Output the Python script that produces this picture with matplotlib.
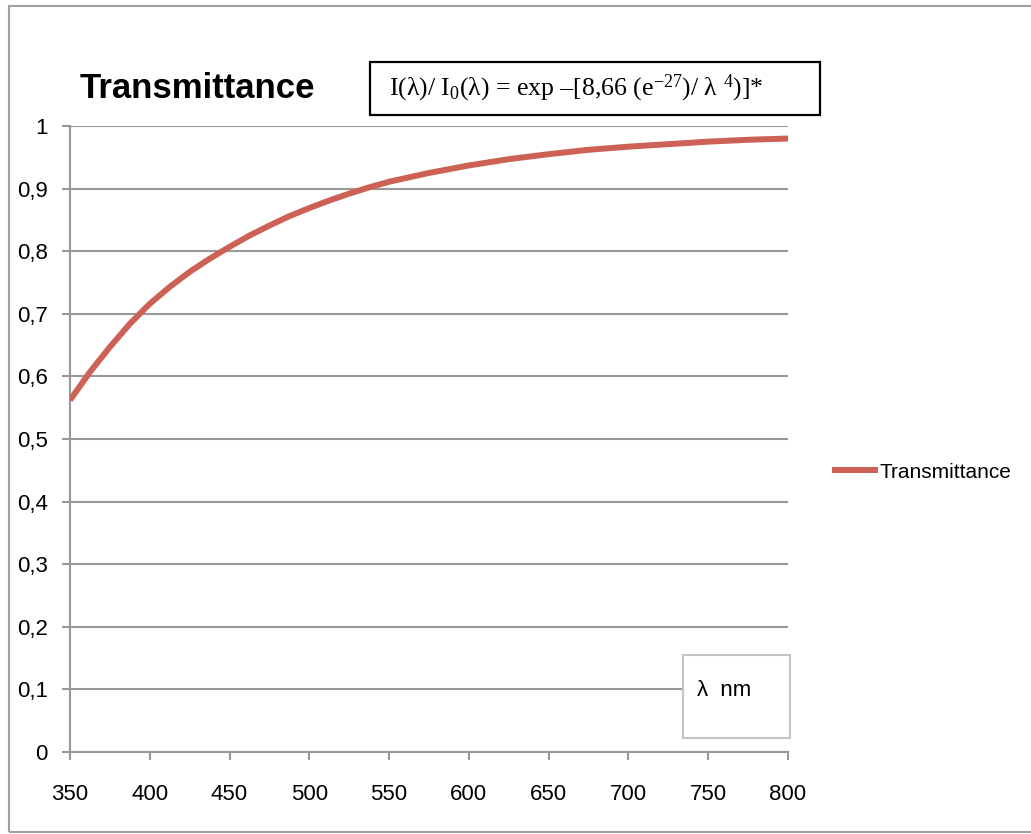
import matplotlib
matplotlib.use('Agg')
import matplotlib.pyplot as plt
from matplotlib.patches import Rectangle

# wavelength (nm) and transmittance
wavelength = [350, 362.5, 375, 387.5, 400, 412.5, 425, 437.5, 450, 462.5,
              475, 487.5, 500, 512.5, 525, 537.5, 550, 575, 600, 625,
              650, 675, 700, 725, 750, 775, 800]
transmittance = [0.562, 0.607, 0.647, 0.684, 0.716, 0.743, 0.767, 0.788, 0.807, 0.825,
                 0.841, 0.856, 0.869, 0.881, 0.892, 0.902, 0.911, 0.925, 0.937, 0.947,
                 0.955, 0.962, 0.967, 0.971, 0.975, 0.978, 0.980]
x_ticks = [350, 400, 450, 500, 550, 600, 650, 700, 750, 800]
y_ticks = [0, 0.1, 0.2, 0.3, 0.4, 0.5, 0.6, 0.7, 0.8, 0.9, 1]
y_ticklabels = ['0', '0,1', '0,2', '0,3', '0,4', '0,5', '0,6', '0,7', '0,8', '0,9', '1']

sans = ['Liberation Sans Narrow', 'Liberation Sans', 'DejaVu Sans']
serif = ['Liberation Serif', 'DejaVu Serif']
line_color = '#CD6155'
grid_color = '#989898'

plt.rcParams.update({'font.family': sans,
                     'mathtext.fontset': 'custom',
                     'mathtext.rm': 'Liberation Serif',
                     'mathtext.it': 'Liberation Serif:italic'})

W, H = 1031, 834
fig = plt.figure(figsize=(W / 100, H / 100), dpi=100)
ax = fig.add_axes([70 / W, 1 - 752 / H, (788 - 70) / W, (752 - 126) / H])

ax.plot(wavelength, transmittance, color=line_color, linewidth=4.3,
        solid_capstyle='butt', solid_joinstyle='round',
        label='Transmittance', zorder=3)

ax.set_xlim(350, 800)
ax.set_ylim(0, 1)
ax.set_xticks(x_ticks)
ax.set_yticks(y_ticks)
ax.set_yticklabels(y_ticklabels)
ax.yaxis.grid(True, color=grid_color, linewidth=1.5)
ax.set_axisbelow(True)

for side in ['top', 'right']:
    ax.spines[side].set_visible(False)
for side in ['left', 'bottom']:
    ax.spines[side].set_color(grid_color)
    ax.spines[side].set_linewidth(1.5)
ax.tick_params(axis='both', colors=grid_color, width=1.5, length=6,
               labelsize=16, labelcolor='black')
ax.tick_params(axis='y', pad=10)
ax.tick_params(axis='x', pad=17)

# legend to the right of the plot
fig.legend(loc='center left', bbox_to_anchor=(832 / W, 1 - 472 / H),
           frameon=False, fontsize=15, handlelength=2.2, handletextpad=0.1,
           borderpad=0, borderaxespad=0)

# title
fig.text(80 / W, 1 - 89 / H, 'Transmittance', fontsize=25, fontweight='bold',
         va='center', ha='left')

# formula box
fig.add_artist(Rectangle((370 / W, 1 - 115 / H), 450 / W, 53 / H,
                         transform=fig.transFigure, facecolor='white',
                         edgecolor='black', linewidth=1.6))
fig.text(389 / W, 1 - 88 / H,
         r'I(λ)/ I$_{0}$(λ) = exp –[8,66 (e$^{-27}$)/ λ $^{4}$)]*',
         fontsize=18.5, family=serif, va='center', ha='left')

# axis unit box
fig.add_artist(Rectangle((683 / W, 1 - 738 / H), 107 / W, 83 / H,
                         transform=fig.transFigure, facecolor='white',
                         edgecolor='#c4c4c4', linewidth=1.5))
fig.text(697 / W, 1 - 690 / H, 'λ  nm', fontsize=16, va='center', ha='left')

# outer chart border
fig.add_artist(Rectangle((9 / W, 2 / H), 1.1, (828 - 2) / H,
                         transform=fig.transFigure, facecolor='none',
                         edgecolor='#a0a0a0', linewidth=1.5))

plt.savefig('out.png', dpi=100)
